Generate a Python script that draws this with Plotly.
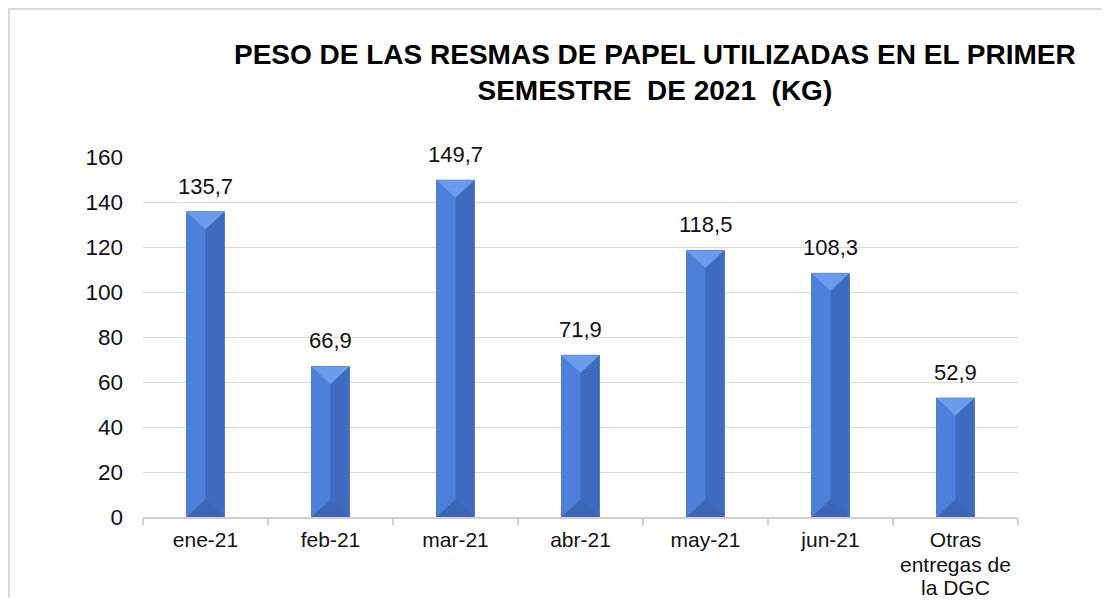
import plotly.graph_objects as go

category_lines = [["ene-21"], ["feb-21"], ["mar-21"], ["abr-21"], ["may-21"], ["jun-21"],
                  ["Otras", "entregas de", "la DGC"]]
values = [135.7, 66.9, 149.7, 71.9, 118.5, 108.3, 52.9]
value_labels = ["135,7", "66,9", "149,7", "71,9", "118,5", "108,3", "52,9"]
y_ticks = [0, 20, 40, 60, 80, 100, 120, 140, 160]

FONT = "Liberation Sans, Arial, sans-serif"
x = list(range(len(category_lines)))
W = 0.304
BEV = 7.8  # bevel depth in data units

# figure sized to fit the window together with the 8px body margin
FW, FH = 1093, 590
PL, PR, PT, PB = 143, 1018, 157, 517  # plot area in page pixels
def fx(px):
    return (px - PL) / (PR - PL)
def fy(py):
    return (PB - py) / (PB - PT)

fig = go.Figure()
fig.add_trace(go.Bar(x=x, y=values, width=W, offset=-W / 2,
                     marker=dict(color="#3D6BC0", line=dict(color="#3A62AA", width=0.7)),
                     hoverinfo="skip", showlegend=False))
fig.add_trace(go.Bar(x=x, y=values, width=W / 2, offset=-W / 2,
                     marker=dict(color="#4D80DA", line=dict(width=0)),
                     hoverinfo="skip", showlegend=False))

tx, ty, bx, by = [], [], [], []
for i, v in zip(x, values):
    tx += [i - W / 2, i + W / 2, i, i - W / 2, None]
    ty += [v, v, v - BEV, v, None]
    bx += [i - W / 2, i + W / 2, i, i - W / 2, None]
    by += [0, 0, BEV, 0, None]
fig.add_trace(go.Scatter(x=tx, y=ty, fill="toself", fillcolor="#6B9BEB", mode="lines",
                         line=dict(width=0, color="#6B9BEB"), hoverinfo="skip", showlegend=False))
fig.add_trace(go.Scatter(x=bx, y=by, fill="toself", fillcolor="#3E66B6", mode="lines",
                         line=dict(width=0, color="#3E66B6"), hoverinfo="skip", showlegend=False))

for i, v, t in zip(x, values, value_labels):
    fig.add_annotation(x=i, y=v, text=t, showarrow=False, yanchor="bottom", yshift=11,
                       font=dict(family=FONT, size=22, color="#111111"))

# continuation lines of multi-line category labels (tighter line spacing than plotly's default)
for i, lines in zip(x, category_lines):
    for k, line in enumerate(lines[1:], start=1):
        fig.add_annotation(x=i, xref="x", yref="paper", y=fy(541 + 23 * k), yanchor="middle",
                           text=line, showarrow=False,
                           font=dict(family=FONT, size=21, color="#111111"))

fig.add_annotation(xref="paper", yref="paper", x=fx(655), y=fy(37),
                   xanchor="center", yanchor="top", showarrow=False,
                   text="<b>PESO DE LAS RESMAS DE PAPEL UTILIZADAS EN EL PRIMER<br>SEMESTRE\u00a0 DE 2021\u00a0 (KG)</b>",
                   font=dict(family=FONT, size=28, color="#000000"))

# outer chart border
fig.add_shape(type="rect", xref="paper", yref="paper",
              x0=fx(9), x1=fx(1130), y0=fy(630), y1=fy(9),
              line=dict(color="#D9D9D9", width=2), layer="below")

fig.update_layout(
    width=FW, height=FH,
    margin=dict(l=PL - 8, r=FW - (PR - 8), t=PT - 8, b=FH - (PB - 8), autoexpand=False),
    paper_bgcolor="white", plot_bgcolor="white",
    barmode="overlay", showlegend=False,
    font=dict(family=FONT, size=21, color="#111111"),
    xaxis=dict(range=[-0.5, 6.5], tickmode="array", tickvals=x,
               ticktext=[lines[0] for lines in category_lines],
               automargin=False,
               showgrid=False, zeroline=False, showline=True, linecolor="#D0D0D0", linewidth=1.5,
               ticks="", ticklabelstandoff=3,
               minor=dict(tickmode="linear", tick0=-0.5, dtick=1, ticks="outside",
                          ticklen=6, tickcolor="#D0D0D0", tickwidth=1.5, showgrid=False),
               tickfont=dict(family=FONT, size=21, color="#111111")),
    yaxis=dict(range=[0, 160], tickmode="array", tickvals=y_ticks, automargin=False,
               showgrid=True, gridcolor="#D9D9D9", gridwidth=1.2, zeroline=False,
               showline=False, ticks="", ticklabelstandoff=19,
               tickfont=dict(family=FONT, size=22.5, color="#111111")),
)

fig.write_html("out.html")
